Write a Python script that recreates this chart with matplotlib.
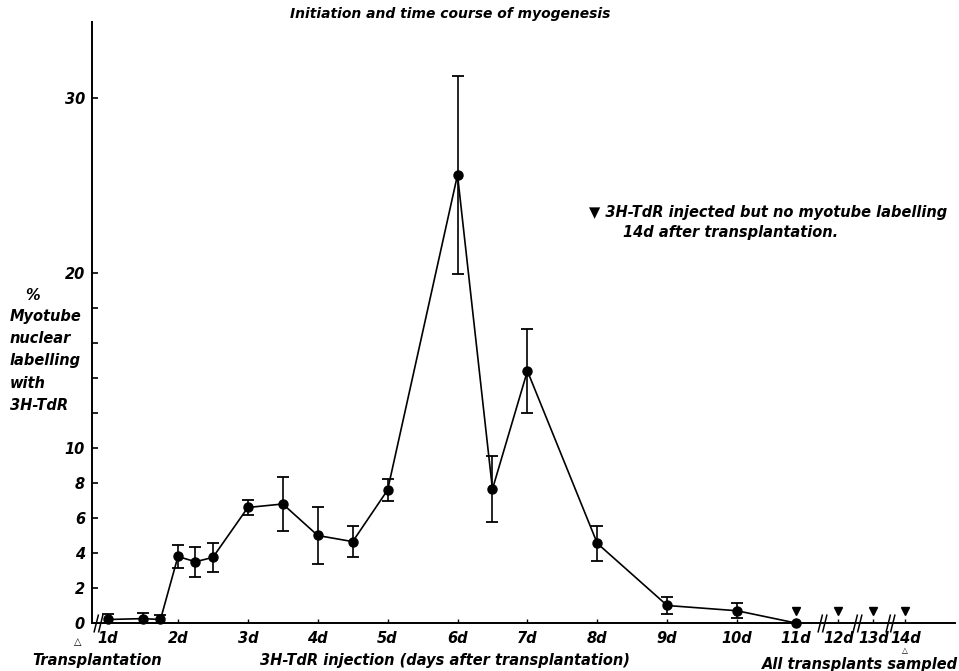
import numpy as np
import matplotlib.pyplot as plt
from matplotlib.path import Path

plt.rcParams['font.family'] = ['DejaVu Sans']
plt.rcParams['font.weight'] = 'bold'
plt.rcParams['font.style'] = 'italic'

# data
days = [1, 1.5, 1.75, 2, 2.25, 2.5, 3, 3.5, 4, 4.5, 5, 6, 6.5, 7, 8, 9, 10, 11]
labelling = [0.2, 0.25, 0.2, 3.8, 3.5, 3.75, 6.6, 6.8, 5.0, 4.65, 7.6, 25.6, 7.65, 14.4, 4.55, 1.0, 0.7, 0.0]
sem = [0.3, 0.3, 0.25, 0.63, 0.87, 0.83, 0.43, 1.57, 1.62, 0.9, 0.65, 5.65, 1.9, 2.4, 1.0, 0.5, 0.43, 0.0]
no_label_days = [11, 12, 13, 14]
tick_days = list(range(1, 15))
tick_names = [f"{d}d" for d in tick_days]
break_days = [0.86, 11.62, 12.54, 13.52]

# compressed axis after day 10
anchor_days = [-10, 10, 11, 12, 13, 14, 30]
anchor_pos = [-10, 10, 10.84, 11.45, 11.95, 12.41, 19.77]


def fwd(d):
    return np.interp(d, anchor_days, anchor_pos)


def inv(p):
    return np.interp(p, anchor_pos, anchor_days)


fig = plt.figure(figsize=(9.59, 6.71), dpi=100)
ax = fig.add_axes([92 / 959, 48 / 671, 863 / 959, 601 / 671])
ax.set_xscale('function', functions=(fwd, inv))
ax.set_xlim(0.77, 15.54)
ax.set_ylim(0, 34.34)

d = np.array(days)
v = np.array(labelling)
e = np.array(sem)
m = e > 0
ax.plot(d, v, color='black', lw=1.2, marker='o', ms=6.5, clip_on=False, zorder=3)
ax.errorbar(d[m], v[m], yerr=e[m], fmt='none', ecolor='black', elinewidth=1.2,
            capsize=4, capthick=1.3, zorder=3)
ax.plot(no_label_days, [0.7] * len(no_label_days), ls='none', marker='v', ms=6,
        color='black', clip_on=False)

brk = Path([(-3, -6), (0, 6), (0, -6), (3, 6)],
           [Path.MOVETO, Path.LINETO, Path.MOVETO, Path.LINETO])
ax.plot(break_days, [0] * len(break_days), ls='none', marker=brk, ms=13,
        mec='black', mfc='none', mew=1.1, clip_on=False, zorder=4)

for s in ['top', 'right']:
    ax.spines[s].set_visible(False)
for s in ['left', 'bottom']:
    ax.spines[s].set_linewidth(1.4)

ax.set_yticks([0, 2, 4, 6, 8, 10, 20, 30])
ax.set_yticks([12, 14, 16, 18], minor=True)
ax.set_xticks(tick_days)
ax.set_xticklabels(tick_names)
ax.xaxis.set_minor_locator(plt.NullLocator())
ax.tick_params(axis='y', which='both', direction='in', length=4, width=1.2,
               labelsize=10.5, pad=5)
ax.tick_params(axis='x', direction='in', length=3, width=1, labelsize=10.5, pad=6)

fs = 10.5
fig.text(450 / 959, 1 - 14 / 671, 'Initiation and time course of myogenesis',
         ha='center', va='center', fontsize=10)
fig.text(33 / 959, 1 - 295 / 671, '%', ha='center', va='center', fontsize=fs)
fig.text(10 / 959, 1 - 309 / 671, 'Myotube\nnuclear\nlabelling\nwith\n3H-TdR',
         ha='left', va='top', fontsize=fs, linespacing=1.6)
fig.text(589 / 959, 1 - 213 / 671, '\u25bc 3H-TdR injected but no myotube labelling',
         ha='left', va='center', fontsize=fs)
fig.text(623 / 959, 1 - 233 / 671, '14d after transplantation.',
         ha='left', va='center', fontsize=fs)
fig.text(78 / 959, 1 - 642 / 671, '\u25b3', ha='center', va='center', fontsize=7)
fig.text(32 / 959, 1 - 660 / 671, 'Transplantation', ha='left', va='center', fontsize=fs)
fig.text(445 / 959, 1 - 660 / 671, '3H-TdR injection (days after transplantation)',
         ha='center', va='center', fontsize=fs)
fig.text(958 / 959, 1 - 664 / 671, 'All transplants sampled', ha='right', va='center',
         fontsize=fs)
fig.text(905 / 959, 1 - 651 / 671, '\u25b3', ha='center', va='center', fontsize=5.5)

fig.savefig('out.png', dpi=100)
